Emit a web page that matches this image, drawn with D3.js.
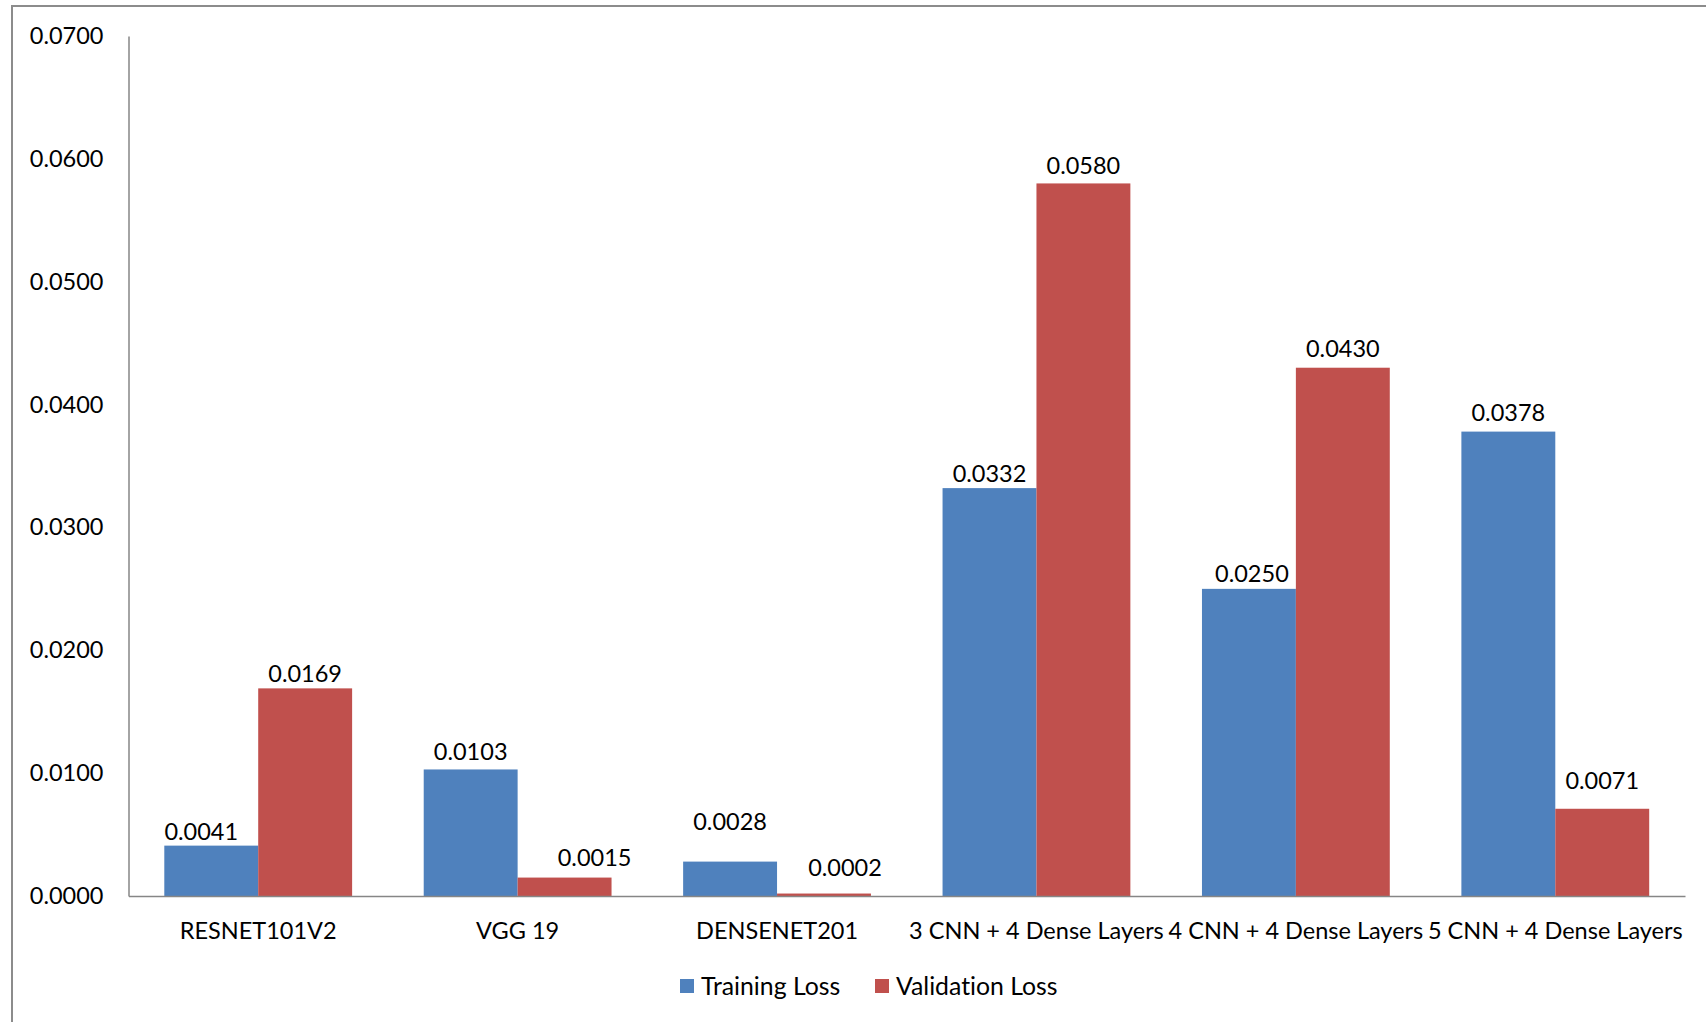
<!DOCTYPE html>
<html>
<head>
<meta charset="utf-8">
<script src="https://cdn.jsdelivr.net/npm/d3@7"></script>
<style>
  html, body { margin: 0; padding: 0; background: #fff; }
  svg { display: block; }
  text { font-family: Lato, "Liberation Sans", sans-serif; fill: #000; font-variant-ligatures: none; }
</style>
</head>
<body>
<svg id="chart" width="1706" height="1022"></svg>
<script>
// Model names along the x axis
const categories = ["RESNET101V2", "VGG 19", "DENSENET201",
  "3 CNN + 4 Dense Layers", "4 CNN + 4 Dense Layers", "5 CNN + 4 Dense Layers"];
// Loss per model
const trainingLoss = [0.0041, 0.0103, 0.0028, 0.0332, 0.0250, 0.0378];
const validationLoss = [0.0169, 0.0015, 0.0002, 0.0580, 0.0430, 0.0071];
const seriesNames = ["Training Loss", "Validation Loss"];
const yTicks = [0, 0.01, 0.02, 0.03, 0.04, 0.05, 0.06, 0.07];

const colors = ["#4F81BD", "#C0504D"];
const series = [trainingLoss, validationLoss];

// Hand-placed data labels: [dx, gap above bar] per series and model
const labelPlacement = [
  [[-10, 6], [0, 9], [0, 32], [0, 6], [3, 7], [0, 11]],
  [[0, 6], [30, 12], [21, 18], [0, 9.5], [0, 11], [0, 20]]
];

const svg = d3.select("#chart");
const W = 1706, H = 1022;
const plot = { left: 128.5, right: 1685, top: 36, bottom: 896 };

// Outer chart frame
svg.append("rect")
  .attr("x", 12).attr("y", 6)
  .attr("width", W).attr("height", H)
  .attr("fill", "none").attr("stroke", "#8c8c8c").attr("stroke-width", 2);

const x = d3.scaleBand().domain(categories)
  .range([plot.left, plot.right]).paddingInner(0.276).paddingOuter(0.138);
const xs = d3.scaleBand().domain(d3.range(series.length))
  .range([0, x.bandwidth()]);
const y = d3.scaleLinear().domain([0, 0.07]).range([plot.bottom, plot.top]);

// Bars with value labels
const groups = svg.append("g").selectAll("g")
  .data(categories).join("g")
  .attr("transform", d => `translate(${x(d)},0)`);

groups.each(function(cat, ci) {
  const g = d3.select(this);
  series.forEach((vals, si) => {
    const v = vals[ci];
    const [dx, gap] = labelPlacement[si][ci];
    g.append("rect")
      .attr("x", xs(si)).attr("width", xs.bandwidth())
      .attr("y", y(v)).attr("height", y(0) - y(v))
      .attr("fill", colors[si]);
    g.append("text")
      .attr("x", xs(si) + xs.bandwidth() / 2 + dx)
      .attr("y", y(v) - gap)
      .attr("text-anchor", "middle")
      .style("font-size", "23.5px")
      .text(d3.format(".4f")(v));
  });
});

// Y axis
const yAxis = svg.append("g")
  .attr("transform", `translate(${plot.left},0)`)
  .call(d3.axisLeft(y).tickValues(yTicks).tickFormat(d3.format(".4f")).tickSize(0).tickPadding(25));
yAxis.select(".domain").attr("stroke", "#868686").attr("stroke-width", 1.5);
yAxis.selectAll("text").style("font-size", "23.5px").style("font-family", "Lato, 'Liberation Sans', sans-serif").attr("fill", "#000");

// X axis
const xAxis = svg.append("g")
  .attr("transform", `translate(0,${plot.bottom})`)
  .call(d3.axisBottom(x).tickSize(0).tickPadding(26));
xAxis.select(".domain").attr("stroke", "#868686").attr("stroke-width", 1.5);
xAxis.selectAll("text").style("font-size", "23.5px").style("font-family", "Lato, 'Liberation Sans', sans-serif").attr("fill", "#000");

// Legend
const legendX = [680, 875];
const legend = svg.append("g").selectAll("g")
  .data(seriesNames).join("g")
  .attr("transform", (d, i) => `translate(${legendX[i]},979)`);
legend.append("rect").attr("width", 14).attr("height", 14)
  .attr("fill", (d, i) => colors[i]);
legend.append("text").attr("x", 21).attr("y", 16)
  .style("font-size", "24.8px").text(d => d);
</script>
</body>
</html>
